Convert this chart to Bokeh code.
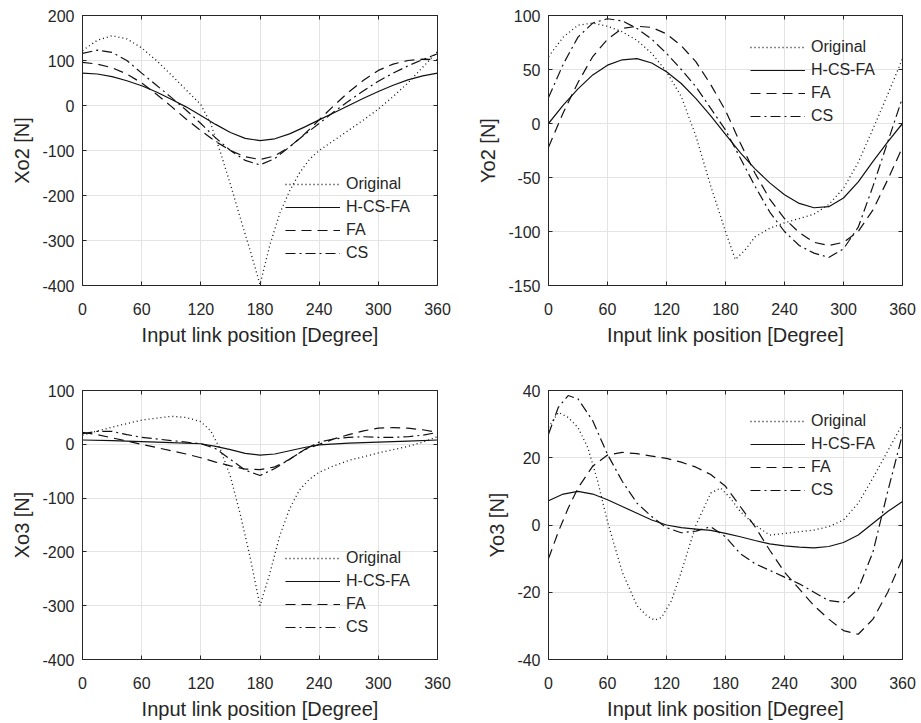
from bokeh.plotting import figure
from bokeh.models import FixedTicker, LinearAxis, Legend, LegendItem, Range1d, PrintfTickFormatter
from bokeh.layouts import gridplot
from bokeh.embed import file_html
from bokeh.resources import INLINE

# ---------------- data ----------------
series_names = ["Original", "H-CS-FA", "FA", "CS"]
x_ticks = [0, 60, 120, 180, 240, 300, 360]
x_label = "Input link position [Degree]"

# Panel 1: Xo2
xo2_orig_deg = [0, 15, 30, 45, 60, 75, 90, 105, 120, 130, 140, 150, 160, 170, 180, 190, 200, 210, 220, 230, 240, 250, 260, 270, 285, 300, 315, 330, 345, 360]
xo2_orig_val = [122, 145, 155, 148, 128, 100, 68, 35, 2, -40, -105, -175, -250, -322, -398, -310, -240, -190, -150, -120, -100, -85, -70, -55, -32, -8, 20, 50, 85, 120]
xo2_hcsfa_deg = [0, 15, 30, 45, 60, 75, 90, 105, 120, 135, 150, 165, 180, 195, 210, 225, 240, 255, 270, 285, 300, 315, 330, 345, 360]
xo2_hcsfa_val = [72, 70, 64, 55, 44, 30, 14, -3, -22, -42, -60, -73, -78, -74, -63, -48, -32, -16, 0, 16, 31, 45, 57, 66, 72]
xo2_fa_deg = xo2_hcsfa_deg
xo2_fa_val = [96, 92, 84, 70, 50, 25, -2, -30, -56, -80, -100, -114, -120, -112, -92, -64, -32, 0, 30, 56, 78, 92, 100, 103, 102]
xo2_cs_deg = xo2_hcsfa_deg
xo2_cs_val = [116, 123, 118, 100, 72, 45, 18, -10, -40, -72, -100, -122, -132, -118, -92, -65, -40, -14, 10, 33, 54, 72, 88, 102, 115]

# Panel 2: Yo2
yo2_orig_deg = [0, 15, 30, 45, 60, 75, 90, 105, 120, 135, 150, 165, 180, 190, 200, 210, 225, 240, 255, 270, 285, 300, 315, 330, 345, 360]
yo2_orig_val = [62, 80, 91, 93, 90, 85, 77, 65, 48, 25, -12, -58, -100, -126, -117, -105, -97, -92, -88, -84, -75, -60, -36, -5, 27, 60]
yo2_hcsfa_deg = xo2_hcsfa_deg
yo2_hcsfa_val = [0, 17, 32, 45, 54, 59, 60, 56, 48, 37, 23, 7, -10, -27, -42, -55, -66, -74, -78, -77, -69, -54, -35, -17, 0]
yo2_fa_deg = xo2_hcsfa_deg
yo2_fa_val = [-22, 10, 38, 62, 78, 88, 90, 89, 83, 72, 57, 36, 12, -18, -46, -70, -88, -101, -110, -113, -110, -100, -80, -52, -22]
yo2_cs_deg = xo2_hcsfa_deg
yo2_cs_val = [24, 55, 80, 93, 97, 95, 88, 78, 65, 50, 34, 14, -6, -32, -58, -82, -100, -113, -120, -124, -116, -96, -58, -17, 24]

# Panel 3: Xo3
xo3_orig_deg = [0, 30, 60, 90, 105, 120, 130, 140, 150, 160, 170, 180, 190, 200, 210, 220, 230, 240, 255, 270, 285, 300, 315, 330, 345, 360]
xo3_orig_val = [17, 32, 45, 52, 50, 42, 25, -10, -60, -130, -210, -300, -240, -170, -120, -85, -65, -52, -40, -30, -23, -16, -10, -4, 4, 14]
xo3_hcsfa_deg = [0, 30, 60, 90, 120, 135, 150, 165, 180, 195, 210, 225, 240, 270, 300, 330, 360]
xo3_hcsfa_val = [8, 7, 5, 3, 1, -4, -10, -17, -20, -18, -12, -6, -1, 2, 4, 6, 8]
xo3_fa_deg = xo2_hcsfa_deg
xo3_fa_val = [22, 18, 12, 6, 0, -6, -12, -18, -25, -33, -40, -46, -47, -42, -28, -10, 0, 10, 18, 25, 30, 31, 30, 27, 22]
xo3_cs_deg = xo2_hcsfa_deg
xo3_cs_val = [20, 24, 24, 18, 13, 10, 7, 4, 1, -8, -28, -48, -58, -45, -28, -10, 4, 10, 13, 14, 13, 13, 14, 17, 22]

# Panel 4: Yo3
yo3_orig_deg = [0, 10, 20, 30, 40, 50, 60, 75, 90, 100, 108, 115, 125, 135, 150, 165, 175, 185, 195, 210, 225, 240, 255, 270, 285, 300, 315, 330, 345, 360]
yo3_orig_val = [29, 33.5, 32, 29, 23, 13, 1, -14, -24, -27, -28.3, -27.5, -22.5, -14, 0, 9.5, 11, 8, 4, 0, -3, -2.5, -2, -1.5, -0.5, 1.5, 6.5, 14, 22, 30]
yo3_hcsfa_deg = xo2_hcsfa_deg
yo3_hcsfa_val = [7.2, 9.2, 10, 9.2, 7.5, 5.5, 3.5, 1.5, 0, -0.8, -1.2, -1.6, -2.5, -3.5, -4.6, -5.6, -6.2, -6.6, -6.8, -6.4, -5.2, -3, 0.5, 4, 7]
yo3_fa_deg = [0, 10, 20, 30, 45, 60, 75, 90, 105, 120, 135, 150, 165, 180, 195, 210, 225, 240, 255, 270, 285, 300, 315, 330, 345, 360]
yo3_fa_val = [-10, -2, 5, 11, 17.5, 20.8, 21.6, 21.2, 20.5, 19.8, 18.7, 17.2, 15, 11.5, 5.5, -0.5, -7.5, -14, -19, -24, -28, -31.4, -32.5, -28, -20, -10]
yo3_cs_deg = [0, 10, 20, 30, 45, 60, 75, 90, 105, 120, 135, 150, 165, 180, 195, 210, 225, 240, 255, 270, 285, 300, 315, 330, 345, 360]
yo3_cs_val = [27, 35, 38.5, 37.5, 31, 21, 13, 6.5, 2.5, -0.8, -2.3, -1.8, -0.5, -3.5, -8.5, -11.5, -13.5, -15.5, -17.5, -20, -22.5, -23, -19, -8, 10, 27]

# ---------------- styling ----------------
FONT = "Liberation Sans"
TXT = "#262626"
styles = {
    "Original": dict(line_dash="1 3", line_width=1.3),
    "H-CS-FA": dict(line_dash="solid", line_width=1.2),
    "FA": dict(line_dash="10 6", line_width=1.2),
    "CS": dict(line_dash="10 4 2 4", line_width=1.2),
}


def make_panel(ylabel, ylo, yhi, yticks, data, legend_xy, width, height,
               left, right, top, bottom):
    p = figure(width=width, height=height, output_backend="svg",
               toolbar_location=None, x_range=Range1d(0, 360),
               y_range=Range1d(ylo, yhi),
               min_border_left=left, min_border_right=right,
               min_border_top=top, min_border_bottom=bottom,
               background_fill_color="white", border_fill_color="white")
    p.outline_line_color = TXT
    p.outline_line_width = 1
    xt = FixedTicker(ticks=x_ticks)
    yt = FixedTicker(ticks=yticks)
    p.xaxis.ticker = xt
    p.yaxis.ticker = yt
    p.xaxis.formatter = PrintfTickFormatter(format="%d")
    p.yaxis.formatter = PrintfTickFormatter(format="%d")
    p.xgrid.ticker = xt
    p.ygrid.ticker = yt
    for g in (p.xgrid, p.ygrid):
        g.grid_line_color = "#e3e3e3"
        g.grid_line_width = 1
    for ax in (p.xaxis, p.yaxis):
        ax.major_tick_in = 4
        ax.major_tick_out = 0
        ax.minor_tick_line_color = None
        ax.axis_line_color = TXT
        ax.major_tick_line_color = TXT
        ax.major_label_text_font = FONT
        ax.major_label_text_font_size = "16px"
        ax.major_label_text_color = TXT
        ax.axis_label_text_font = FONT
        ax.axis_label_text_font_size = "20px"
        ax.axis_label_text_font_style = "normal"
        ax.axis_label_text_color = TXT
    p.xaxis.axis_label = x_label
    p.yaxis.axis_label = ylabel
    p.xaxis.major_label_standoff = 17
    p.xaxis.axis_label_standoff = 6
    p.yaxis.major_label_standoff = 8
    p.yaxis.axis_label_standoff = 6
    # box ticks on top and right (inward, no labels)
    for place, tk in (("above", xt), ("right", yt)):
        ax = LinearAxis(ticker=tk, major_tick_in=4, major_tick_out=0,
                        minor_tick_line_color=None, axis_line_color=TXT,
                        major_tick_line_color=TXT,
                        major_label_text_font_size="0px",
                        major_label_text_color=None,
                        major_label_standoff=0)
        p.add_layout(ax, place)

    items = []
    for name, (xs, ys) in zip(series_names, data):
        r = p.line(xs, ys, line_color="#111111", **styles[name])
        items.append(LegendItem(label=name, renderers=[r]))
    leg = Legend(items=items, location=legend_xy)
    leg.background_fill_alpha = 0
    leg.border_line_alpha = 0
    leg.padding = 0
    leg.margin = 0
    leg.spacing = 3
    leg.label_height = 20
    leg.glyph_height = 20
    leg.glyph_width = 55
    leg.label_standoff = 6
    leg.label_text_font = FONT
    leg.label_text_font_size = "16px"
    leg.label_text_color = TXT
    p.add_layout(leg)
    return p


p1 = make_panel("Xo2 [N]", -400, 200, [-400, -300, -200, -100, 0, 100, 200],
                [(xo2_orig_deg, xo2_orig_val), (xo2_hcsfa_deg, xo2_hcsfa_val),
                 (xo2_fa_deg, xo2_fa_val), (xo2_cs_deg, xo2_cs_val)],
                (203, 22), 460, 348, 82, 23, 15, 63)
p2 = make_panel("Yo2 [N]", -150, 100, [-150, -100, -50, 0, 50, 100],
                [(yo2_orig_deg, yo2_orig_val), (yo2_hcsfa_deg, yo2_hcsfa_val),
                 (yo2_fa_deg, yo2_fa_val), (yo2_cs_deg, yo2_cs_val)],
                (202, 159), 460, 348, 88, 18, 15, 63)
p3 = make_panel("Xo3 [N]", -400, 100, [-400, -300, -200, -100, 0, 100],
                [(xo3_orig_deg, xo3_orig_val), (xo3_hcsfa_deg, xo3_hcsfa_val),
                 (xo3_fa_deg, xo3_fa_val), (xo3_cs_deg, xo3_cs_val)],
                (203, 22), 460, 374, 82, 23, 42, 61)
p4 = make_panel("Yo3 [N]", -40, 40, [-40, -20, 0, 20, 40],
                [(yo3_orig_deg, yo3_orig_val), (yo3_hcsfa_deg, yo3_hcsfa_val),
                 (yo3_fa_deg, yo3_fa_val), (yo3_cs_deg, yo3_cs_val)],
                (202, 159), 460, 374, 88, 18, 42, 61)

grid = gridplot([[p1, p2], [p3, p4]], toolbar_location=None)

open("out.html", "w").write(file_html(grid, INLINE))
